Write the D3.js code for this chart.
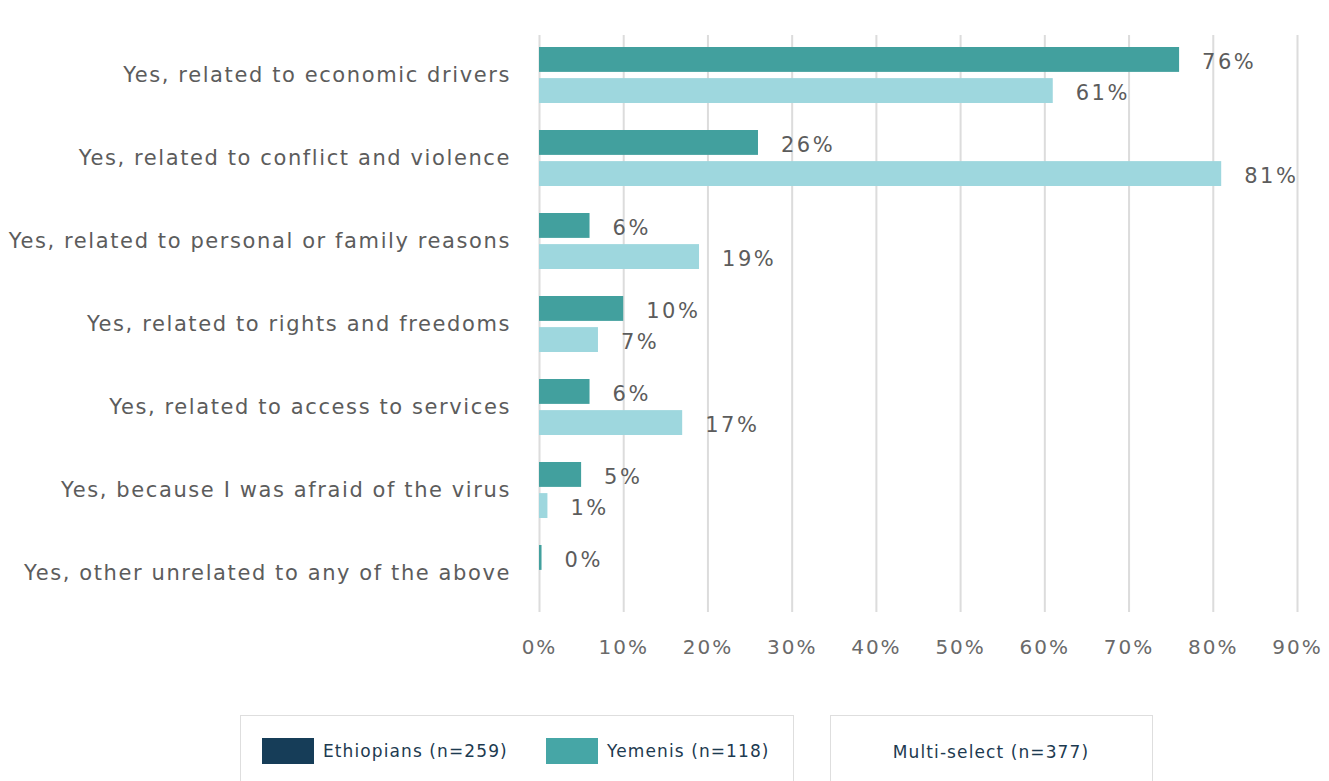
<!DOCTYPE html>
<html>
<head>
<meta charset="utf-8">
<script src="https://cdn.jsdelivr.net/npm/d3@7"></script>
<style>
  body { margin: 0; background: #fff; }
  text { font-family: "DejaVu Sans", sans-serif; }
</style>
</head>
<body>
<script>
const categories = [
    'Yes, related to economic drivers',
    'Yes, related to conflict and violence',
    'Yes, related to personal or family reasons',
    'Yes, related to rights and freedoms',
    'Yes, related to access to services',
    'Yes, because I was afraid of the virus',
    'Yes, other unrelated to any of the above'
];
const seriesKeys = ['first', 'second'];
const firstValues = [76, 26, 6, 10, 6, 5, 0.3];
const secondValues = [61, 81, 19, 7, 17, 1, null];
const xTicks = [0, 10, 20, 30, 40, 50, 60, 70, 80, 90];
const legendItems = ['Ethiopians (n=259)', 'Yemenis (n=118)'];
const legendNote = 'Multi-select (n=377)';

const width = 1329, height = 781;
const colors = { first: '#42a09e', second: '#9ed7de' };
const legendColors = ['#163d58', '#46a6a6'];

const svg = d3.select('body')
    .append('svg')
    .attr('width', width)
    .attr('height', height);

const x = d3.scaleLinear()
    .domain([0, 90])
    .range([539, 1297]);

const y = d3.scaleBand()
    .domain(categories)
    .range([33.5, 614.5]);

const ySub = d3.scaleBand()
    .domain(seriesKeys)
    .range([13.5, 69.5])
    .paddingInner(0.2);

// grid + tick labels
const xAxis = d3.axisBottom(x)
    .tickValues(xTicks)
    .tickFormat(d => d + '%')
    .tickSize(-(612 - 35))
    .tickPadding(28);

const gx = svg.append('g')
    .attr('class', 'x axis')
    .attr('transform', 'translate(0,612)')
    .call(xAxis);
gx.select('.domain').remove();
gx.selectAll('line').attr('stroke', '#dcdcdc').attr('stroke-width', 2);
gx.selectAll('text')
    .attr('fill', '#6a6a6a')
    .style('font-size', '20px')
    .style('letter-spacing', '2px');

// category labels
const yAxis = d3.axisLeft(y).tickSize(0).tickPadding(28);
const gy = svg.append('g')
    .attr('class', 'y axis')
    .attr('transform', 'translate(539,0)')
    .call(yAxis);
gy.select('.domain').remove();
gy.selectAll('text')
    .attr('fill', '#5c5c5c')
    .style('font-size', '21px')
    .style('letter-spacing', '1.6px');

const rows = categories.map((c, i) => ({
    cat: c,
    vals: [
        { key: 'first', v: firstValues[i] },
        { key: 'second', v: secondValues[i] }
    ].filter(d => d.v !== null)
}));

const groups = svg.selectAll('.group')
    .data(rows)
    .enter()
    .append('g')
    .attr('class', 'group')
    .attr('transform', d => 'translate(0,' + y(d.cat) + ')');

groups.selectAll('rect')
    .data(d => d.vals)
    .enter()
    .append('rect')
    .attr('x', x(0))
    .attr('y', d => ySub(d.key))
    .attr('width', d => x(d.v) - x(0))
    .attr('height', ySub.bandwidth())
    .attr('fill', d => colors[d.key]);

groups.selectAll('.val')
    .data(d => d.vals)
    .enter()
    .append('text')
    .attr('class', 'val')
    .attr('x', d => x(d.v) + 23)
    .attr('y', d => ySub(d.key) + ySub.bandwidth() / 2 + 2)
    .attr('dy', '0.35em')
    .attr('fill', '#5c5c5c')
    .style('font-size', '21px')
    .style('letter-spacing', '2.5px')
    .text(d => Math.round(d.v) + '%');

// legend
const legend = svg.append('g').attr('class', 'legend');
legend.append('rect')
    .attr('x', 240.5).attr('y', 715.5)
    .attr('width', 553).attr('height', 90)
    .attr('fill', '#fff').attr('stroke', '#dedede');
legend.append('rect')
    .attr('x', 830.5).attr('y', 715.5)
    .attr('width', 322).attr('height', 90)
    .attr('fill', '#fff').attr('stroke', '#dedede');

const legendX = [262, 546];
legendItems.forEach((t, i) => {
    legend.append('rect')
        .attr('x', legendX[i]).attr('y', 738)
        .attr('width', 52).attr('height', 26)
        .attr('fill', legendColors[i]);
    legend.append('text')
        .attr('x', legendX[i] + 61).attr('y', 751)
        .attr('dy', '0.35em')
        .attr('fill', '#1d3a50')
        .style('font-size', '17px')
        .style('letter-spacing', '1.1px')
        .text(t);
});
legend.append('text')
    .attr('x', 991).attr('y', 752)
    .attr('dy', '0.35em')
    .attr('text-anchor', 'middle')
    .attr('fill', '#1d3a50')
    .style('font-size', '17px')
    .style('letter-spacing', '1.1px')
    .text(legendNote);
</script>
</body>
</html>
